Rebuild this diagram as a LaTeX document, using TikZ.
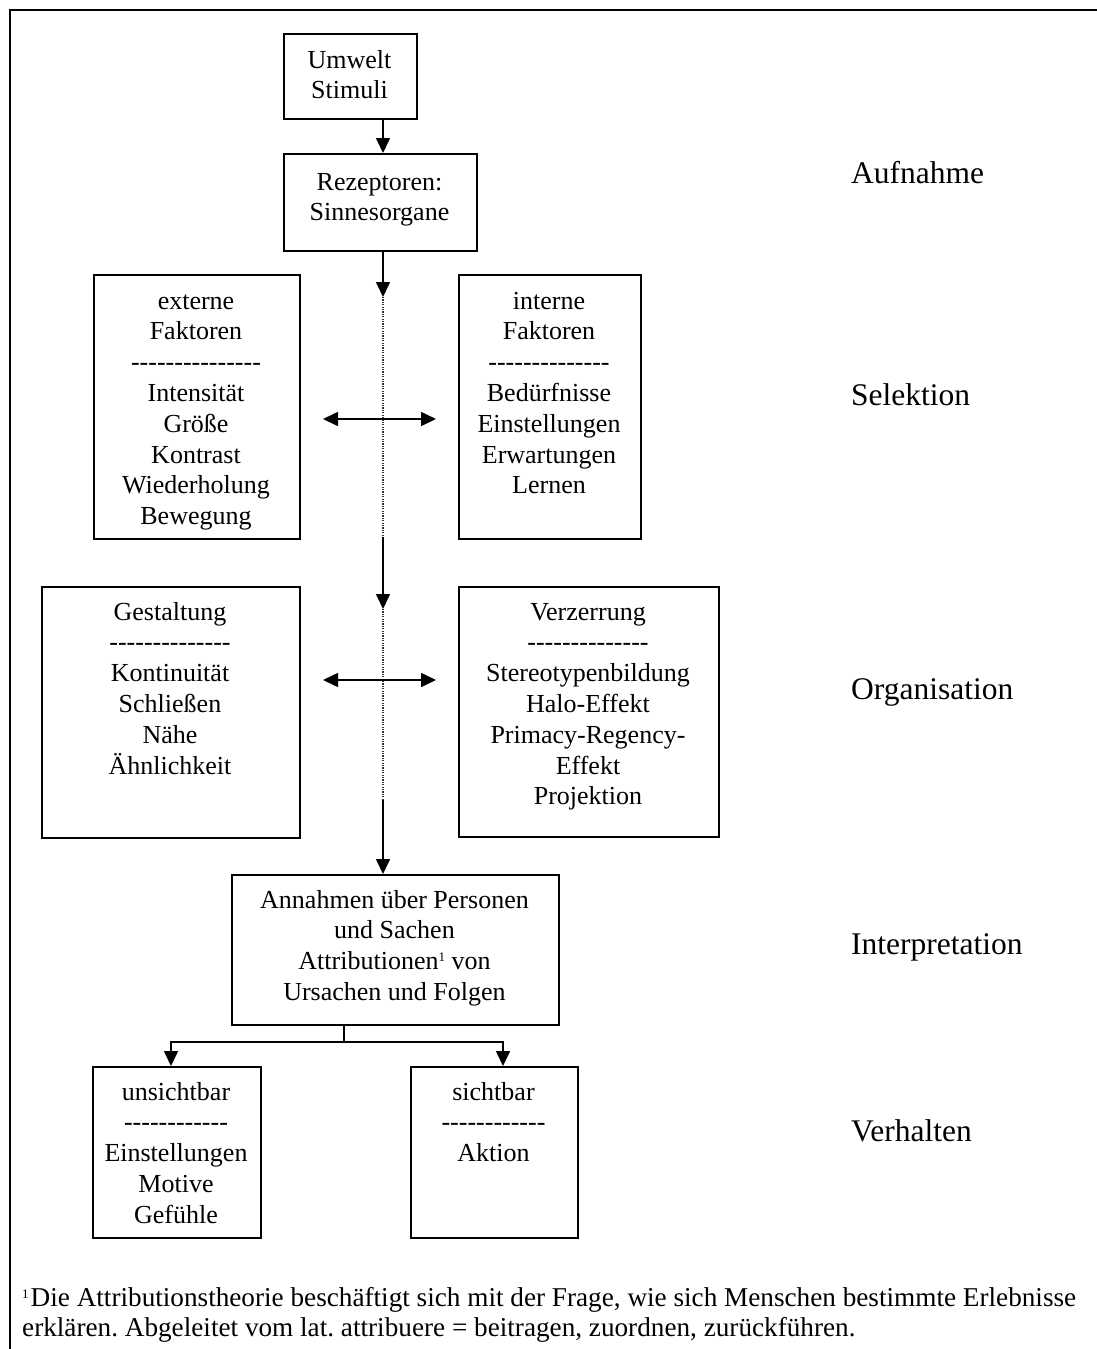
\documentclass[tikz,border=0pt]{standalone}
\usepackage{fontspec}
\setmainfont{Liberation Serif}
\usetikzlibrary{arrows.meta}
\frenchspacing
% a row of separate hyphens (no en-dash ligature)
\newcommand{\dashrow}[1]{\foreach \k in {1,...,#1}{\mbox{-}}}
% small footnote mark
\newcommand{\fnmark}{\raisebox{8pt}{\fontsize{13}{13}\selectfont 1}}

\begin{document}
\begin{tikzpicture}[x=1pt,y=-1pt,
  >={Triangle[length=15pt,width=14pt]},
  box/.style={draw, line width=1.6pt, anchor=north west, inner sep=0pt},
  txt/.style={anchor=north, align=center, inner sep=0pt, font=\fontsize{26}{30.8}\selectfont},
  lab/.style={anchor=base west, inner sep=0pt, font=\fontsize{31.5}{36}\selectfont},
  note/.style={anchor=base west, inner sep=0pt, font=\fontsize{27.2}{30}\selectfont},
  arr/.style={line width=1.6pt, ->},
  dbl/.style={line width=1.6pt, <->},
  dots/.style={line width=1.1pt, dash pattern=on 1.2pt off 1.2pt, black!80},
]
\useasboundingbox (0,0) rectangle (1097,1349);

% outer frame (top and left edges)
\draw[line width=2.2pt] (10,1349) -- (10,10) -- (1097,10);

% boxes
\node[box, minimum width=133pt, minimum height=85pt]  (umwelt) at (283,33)  {};
\node[box, minimum width=193pt, minimum height=97pt]  (rez)    at (283,153) {};
\node[box, minimum width=206pt, minimum height=264pt] (ext)    at (93,274)  {};
\node[box, minimum width=182pt, minimum height=264pt] (int)    at (458,274) {};
\node[box, minimum width=258pt, minimum height=251pt] (gest)   at (41,586)  {};
\node[box, minimum width=260pt, minimum height=250pt] (verz)   at (458,586) {};
\node[box, minimum width=327pt, minimum height=150pt] (ann)    at (231,874) {};
\node[box, minimum width=168pt, minimum height=171pt] (unsi)   at (92,1066) {};
\node[box, minimum width=167pt, minimum height=171pt] (sich)   at (410,1066) {};

% box texts
\node[txt] (umweltT) at (349.5,46.4) {\strut Umwelt\\Stimuli};
\node[txt] (rezT)    at (379.5,168.4) {\strut Rezeptoren:\\Sinnesorgane};
\node[txt] (extT)    at (196,287.4) {\strut externe\\Faktoren\\\dashrow{15}\\Intensität\\Größe\\Kontrast\\Wiederholung\\Bewegung};
\node[txt] (intT)    at (549,287.4) {\strut interne\\Faktoren\\\dashrow{14}\\Bedürfnisse\\Einstellungen\\Erwartungen\\Lernen};
\node[txt] (gestT)   at (170,598.4) {\strut Gestaltung\\\dashrow{14}\\Kontinuität\\Schließen\\Nähe\\Ähnlichkeit};
\node[txt] (verzT)   at (588,598.4) {\strut Verzerrung\\\dashrow{14}\\Stereotypenbildung\\Halo-Effekt\\Primacy-Regency-\\Effekt\\Projektion};
\node[txt] (annT)    at (394.5,886.4) {\strut Annahmen über Personen\\und Sachen\\Attributionen\fnmark{} von\\Ursachen und Folgen};
\node[txt] (unsiT)   at (176,1078.4) {\strut unsichtbar\\\dashrow{12}\\Einstellungen\\Motive\\Gefühle};
\node[txt] (sichT)   at (493.5,1078.4) {\strut sichtbar\\\dashrow{12}\\Aktion};

% stage labels
\node[lab] (l1) at (851,183.5) {Aufnahme};
\node[lab] (l2) at (851,405)   {Selektion};
\node[lab] (l3) at (851,699)   {Organisation};
\node[lab] (l4) at (851,954)   {Interpretation};
\node[lab] (l5) at (851,1141)  {Verhalten};

% footnote
\node[note] (fn1) at (22,1306) {\fnmark\kern2pt Die Attributionstheorie beschäftigt sich mit der Frage, wie sich Menschen bestimmte Erlebnisse};
\node[note] (fn2) at (22,1336) {erklären. Abgeleitet vom lat. attribuere = beitragen, zuordnen, zurückführen.};

% main vertical flow
\coordinate (stem) at (383,0);
\coordinate (d1a) at (383,297);
\coordinate (d1b) at (383,537);
\coordinate (d2a) at (383,609);
\coordinate (d2b) at (383,800);
\draw[arr] (stem |- umwelt.south) -- (stem |- rez.north);
\draw[arr] (stem |- rez.south) -- (d1a);
\draw[dots] (d1a) -- (d1b);
\draw[arr] (d1b) -- (d2a);
\draw[dots] (d2a) -- (d2b);
\draw[arr] (d2b) -- (stem |- ann.north);

% two-way arrows between factor boxes
\coordinate (selL) at (323,419);
\coordinate (selR) at (436,419);
\coordinate (orgL) at (323,680);
\coordinate (orgR) at (436,680);
\draw[dbl] (selL) -- (selR);
\draw[dbl] (orgL) -- (orgR);

% branch to behaviour boxes
\coordinate (br)  at (344,1042);
\coordinate (brL) at (171,1066);
\coordinate (brR) at (503,1066);
\draw[line width=1.6pt] (ann.south -| br) -- (br);
\draw[arr] (br) -| (brL);
\draw[arr] (br) -| (brR);
\end{tikzpicture}
\end{document}
